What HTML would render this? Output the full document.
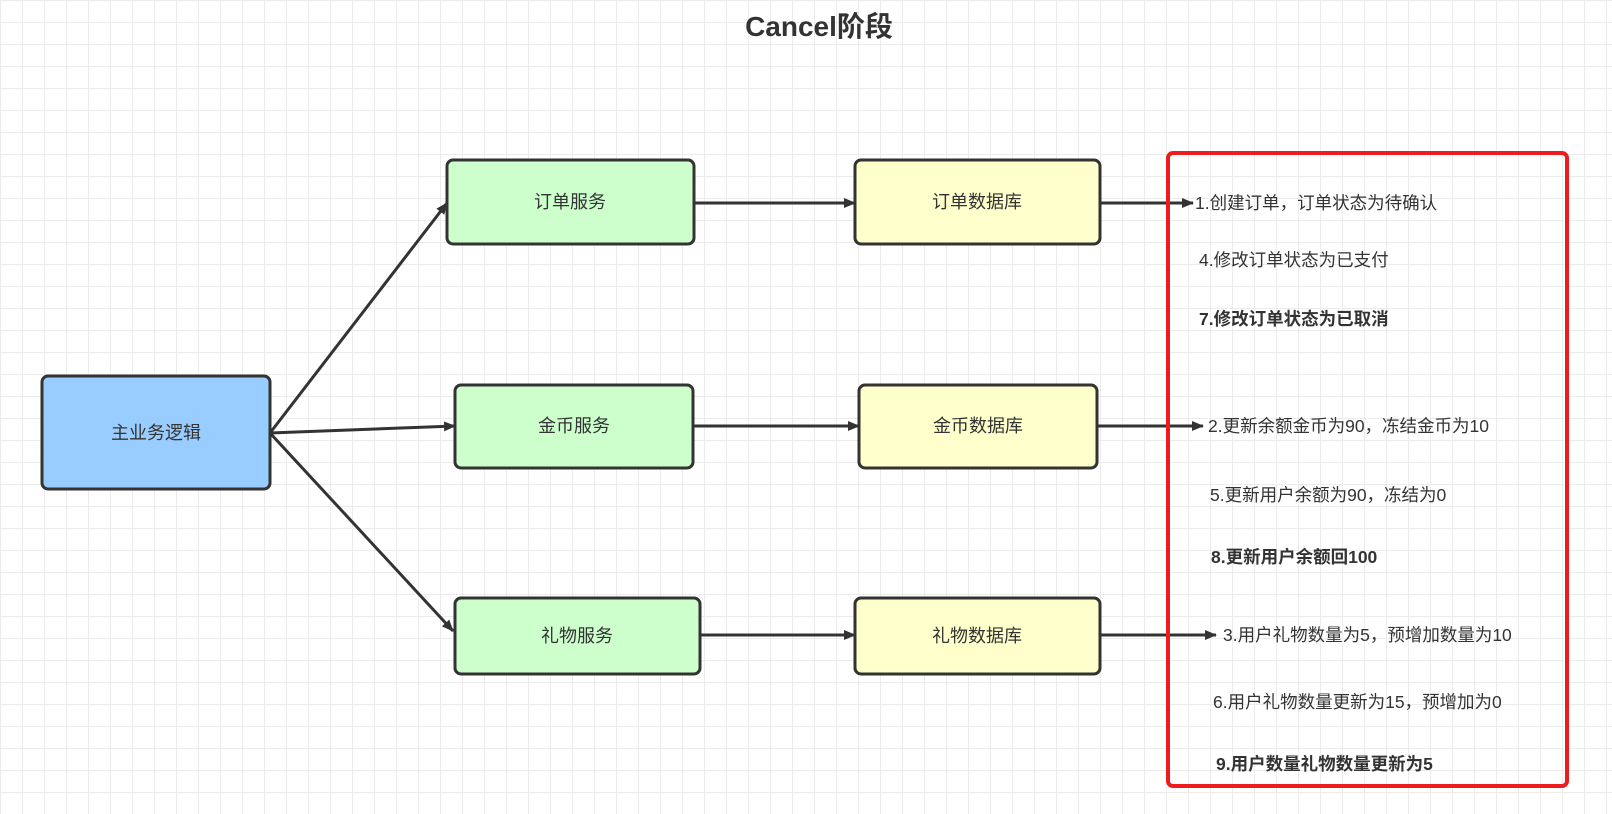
<!DOCTYPE html>
<html><head><meta charset="utf-8"><style>
html,body{margin:0;padding:0}
body{width:1612px;height:814px;overflow:hidden;background:#fff;
background-image:linear-gradient(#ececec 1px,transparent 1px),linear-gradient(90deg,#ececec 1px,transparent 1px);
background-size:22px 22px;font-family:"Liberation Sans","Noto Sans CJK SC",sans-serif;}
</style></head><body>
<svg width="1612" height="814" xmlns="http://www.w3.org/2000/svg" style="position:absolute;left:0;top:0;font-family:'Liberation Sans','Noto Sans CJK SC',sans-serif">
<defs><marker id="a" markerWidth="12" markerHeight="10" refX="11" refY="5" orient="auto" markerUnits="userSpaceOnUse"><path d="M0,0 L12,5 L0,10 z" fill="#333"/></marker></defs>
<text x="819" y="36" text-anchor="middle" font-size="28" font-weight="bold" fill="#333">Cancel阶段</text>
<g stroke="#333" stroke-width="3" fill="none">
<line x1="270" y1="433" x2="447" y2="203" marker-end="url(#a)"/>
<line x1="270" y1="433" x2="455" y2="426" marker-end="url(#a)"/>
<line x1="270" y1="433" x2="453" y2="631" marker-end="url(#a)"/>
<line x1="694" y1="203" x2="855" y2="203" marker-end="url(#a)"/>
<line x1="693" y1="426" x2="859" y2="426" marker-end="url(#a)"/>
<line x1="700" y1="635" x2="855" y2="635" marker-end="url(#a)"/>
<line x1="1100" y1="203" x2="1193" y2="203" marker-end="url(#a)"/>
<line x1="1097" y1="426" x2="1203" y2="426" marker-end="url(#a)"/>
<line x1="1100" y1="635" x2="1216" y2="635" marker-end="url(#a)"/>
</g>
<g stroke="#333" stroke-width="3">
<rect x="42" y="376" width="228" height="113" rx="6" fill="#99ccff"/>
<rect x="447" y="160" width="247" height="84" rx="6" fill="#ccffcc"/>
<rect x="455" y="385" width="238" height="83" rx="6" fill="#ccffcc"/>
<rect x="455" y="598" width="245" height="76" rx="6" fill="#ccffcc"/>
<rect x="855" y="160" width="245" height="84" rx="6" fill="#ffffcc"/>
<rect x="859" y="385" width="238" height="83" rx="6" fill="#ffffcc"/>
<rect x="855" y="598" width="245" height="76" rx="6" fill="#ffffcc"/>
</g>
<rect x="1168" y="153" width="399" height="633" rx="5" fill="none" stroke="#ee1c1c" stroke-width="4"/>
<g font-size="18" fill="#333" text-anchor="middle">
<text x="156" y="439">主业务逻辑</text>
<text x="570" y="208">订单服务</text>
<text x="574" y="432">金币服务</text>
<text x="577" y="642">礼物服务</text>
<text x="977" y="208">订单数据库</text>
<text x="978" y="432">金币数据库</text>
<text x="977" y="642">礼物数据库</text>
</g>
<g font-size="17.5" fill="#333">
<text x="1195" y="209">1.创建订单，订单状态为待确认</text>
<text x="1199" y="266">4.修改订单状态为已支付</text>
<text x="1199" y="325" font-weight="bold">7.修改订单状态为已取消</text>
<text x="1208" y="432">2.更新余额金币为90，冻结金币为10</text>
<text x="1210" y="501">5.更新用户余额为90，冻结为0</text>
<text x="1211" y="563" font-weight="bold">8.更新用户余额回100</text>
<text x="1223" y="641">3.用户礼物数量为5，预增加数量为10</text>
<text x="1213" y="708">6.用户礼物数量更新为15，预增加为0</text>
<text x="1216" y="770" font-weight="bold">9.用户数量礼物数量更新为5</text>
</g>
</svg>
</body></html>
